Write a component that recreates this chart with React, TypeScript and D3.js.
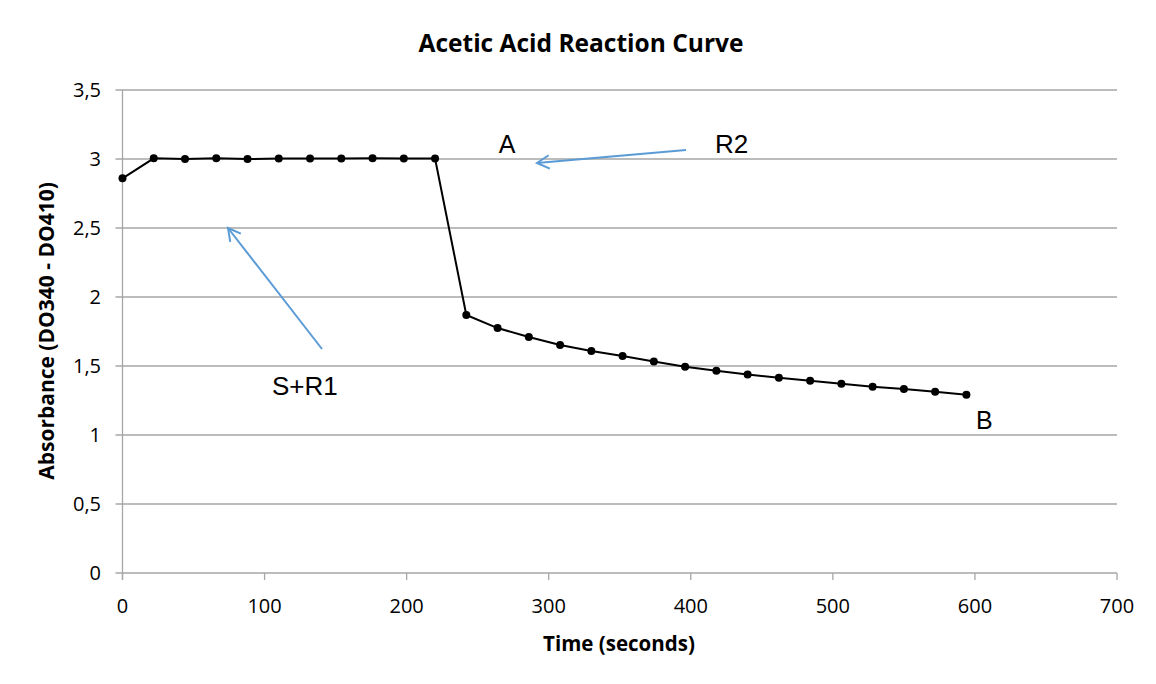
import React from "react";
import * as d3 from "d3";

const times = [0, 22, 44, 66, 88, 110, 132, 154, 176, 198, 220, 242, 264, 286, 308, 330, 352, 374, 396, 418, 440, 462, 484, 506, 528, 550, 572, 594];
const absorbance = [2.86, 3.005, 3.0, 3.005, 3.0, 3.003, 3.003, 3.003, 3.005, 3.003, 3.003, 1.87, 1.775, 1.71, 1.652, 1.609, 1.572, 1.532, 1.495, 1.466, 1.438, 1.415, 1.393, 1.372, 1.35, 1.333, 1.313, 1.292];
const xTicks = [0, 100, 200, 300, 400, 500, 600, 700];
const yTicks = [0, 0.5, 1, 1.5, 2, 2.5, 3, 3.5];
const yTickLabels = ["0", "0,5", "1", "1,5", "2", "2,5", "3", "3,5"];

const W = 1156, H = 684;
const left = 122.5, right = 1117, top = 90, bottom = 573;

export default function App() {
  const x = d3.scaleLinear().domain([0, 700]).range([left, right]);
  const y = d3.scaleLinear().domain([0, 3.5]).range([bottom, top]);
  const line = d3.line<number>().x((_, i) => x(times[i])).y((d) => y(d));
  const pts = absorbance.map((v, i) => [x(times[i]), y(v)]);
  const tickFont = "Open Sans, Lato, sans-serif";
  const annFont = "Liberation Sans, Arial, sans-serif";
  const blue = "#5b9bd5";
  const arrowHead = (x1: number, y1: number, x2: number, y2: number) => {
    const a = Math.atan2(y2 - y1, x2 - x1);
    const L = 14, sp = 0.5;
    const p1 = [x2 - L * Math.cos(a - sp), y2 - L * Math.sin(a - sp)];
    const p2 = [x2 - L * Math.cos(a + sp), y2 - L * Math.sin(a + sp)];
    return `M${p1[0]},${p1[1]}L${x2},${y2}L${p2[0]},${p2[1]}`;
  };
  return (
    <svg width={W} height={H} style={{ position: "absolute", left: 0, top: 0, background: "#fff" }}>
      <rect width={W} height={H} fill="#fff" />
      <text x={581} y={52} textAnchor="middle" fontFamily={tickFont} fontWeight="bold" fontSize={24.5}>Acetic Acid Reaction Curve</text>
      {yTicks.map((t, i) => (
        <g key={"y" + i}>
          <line x1={left - 7} x2={right} y1={y(t)} y2={y(t)} stroke="#a6a6a6" strokeWidth={1.3} />
          <text x={101} y={y(t) + 7} textAnchor="end" fontFamily={tickFont} fontSize={20}>{yTickLabels[i]}</text>
        </g>
      ))}
      <line x1={left} x2={left} y1={top} y2={bottom + 7} stroke="#a6a6a6" strokeWidth={1.3} />
      {xTicks.map((t) => (
        <g key={"x" + t}>
          <line x1={x(t)} x2={x(t)} y1={bottom} y2={bottom + 7} stroke="#a6a6a6" strokeWidth={1.3} />
          <text x={x(t)} y={613} textAnchor="middle" fontFamily={tickFont} fontSize={20}>{t}</text>
        </g>
      ))}
      <text x={619} y={651} textAnchor="middle" fontFamily={tickFont} fontWeight="bold" fontSize={20.5}>Time (seconds)</text>
      <text transform={`translate(54,331) rotate(-90)`} textAnchor="middle" fontFamily={tickFont} fontWeight="bold" fontSize={21}>Absorbance (DO340 - DO410)</text>
      <path d={line(absorbance) || ""} fill="none" stroke="#000" strokeWidth={2} />
      {pts.map((p, i) => (
        <circle key={i} cx={p[0]} cy={p[1]} r={4} fill="#000" />
      ))}
      <line x1={686} y1={150} x2={537} y2={163} stroke={blue} strokeWidth={2} />
      <path d={arrowHead(686, 150, 537, 163)} fill="none" stroke={blue} strokeWidth={2} />
      <line x1={322} y1={349} x2={228} y2={228} stroke={blue} strokeWidth={2} />
      <path d={arrowHead(322, 349, 228, 228)} fill="none" stroke={blue} strokeWidth={2} />
      <text x={507} y={153} textAnchor="middle" fontFamily={annFont} fontSize={25}>A</text>
      <text x={715} y={153} fontFamily={annFont} fontSize={26}>R2</text>
      <text x={272} y={395} fontFamily={annFont} fontSize={26}>S+R1</text>
      <text x={976} y={429} fontFamily={annFont} fontSize={25}>B</text>
    </svg>
  );
}
